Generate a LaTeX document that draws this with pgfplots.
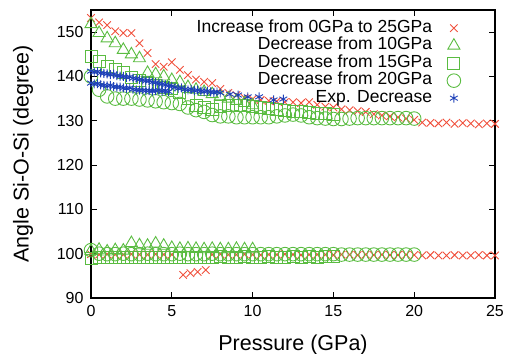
\documentclass[border=0pt]{standalone}
\usepackage{fontspec}
\setmainfont{Liberation Sans}
\usepackage{pgfplots}
\pgfplotsset{compat=1.18}
\definecolor{cred}{RGB}{240,80,60}
\definecolor{cgreen}{RGB}{90,188,65}
\definecolor{cblue}{RGB}{30,65,185}
\begin{document}
\begin{tikzpicture}
\begin{axis}[
  scale only axis, width=404pt, height=288pt,
  xmin=0, xmax=25, ymin=90, ymax=155,
  xtick={0,5,10,15,20,25}, ytick={90,100,110,120,130,140,150},
  tick align=inside, major tick length=6pt,
  tick style={black, line width=1pt},
  axis line style={line width=1.6pt},
  /pgf/number format/assume math mode=true,
  tick label style={font=\fontsize{16}{19}\selectfont},
  xticklabel style={yshift=-4pt},
  yticklabel style={xshift=-4pt},
  xlabel={Pressure (GPa)}, ylabel={Angle Si-O-Si (degree)},
  label style={font=\fontsize{21.5}{25}\selectfont},
  xlabel style={at={(axis description cs:0.5,-0.163)}, anchor=center},
  ylabel style={at={(axis description cs:-0.168,0.5)}, anchor=center},
  legend plot pos=right, legend cell align=right,
  legend style={draw=none, fill=none, at={(rel axis cs:0.923,0.975)}, anchor=north east,
    font=\fontsize{17.5}{20}\selectfont, row sep=0pt, column sep=14pt,
    nodes={inner sep=1pt, text height=12pt, text depth=3.5pt}},
]
\addplot[only marks, mark=x, mark size=5.3pt, cred, line width=0.9pt] coordinates {
(0,153.2)(0.5,152.2)(1,151.6)(1.5,150.2)(2,149.8)(2.5,149.8)(3,147.5)(3.5,145.3)(4,142.8)(4.5,142.2)
(5,143.2)(5.5,141.5)(6,140.3)(6.5,139.3)(7,138.8)(7.5,138.5)(8,137.2)(8.5,136.3)(9,135.8)(9.5,135.2)
(10,134.9)(10.5,134.7)(11,134.5)(11.5,134.4)(12,134.2)(12.5,134.2)(13,134.0)(13.5,134.2)(14,133.6)(14.5,133.2)
(15,133.0)(15.5,132.6)(16,132.4)(16.5,132.2)(17,132.0)(17.5,131.5)(18,131.2)(18.5,131.0)(19,130.8)(19.5,130.5)
(20,130.2)(20.5,129.6)(21,129.5)(21.5,129.4)(22,129.6)(22.5,129.3)(23,129.5)(23.5,129.4)(24,129.2)(24.5,129.4)(25,129.3)
(0,99.9)(0.5,99.8)(1,99.9)(1.5,99.8)(2,99.8)(2.5,99.9)(3,99.8)(3.5,99.8)(4,99.9)(4.5,99.8)(5,99.8)
(5.7,95.2)(6.15,95.6)(6.6,95.9)(7.1,96.3)
(7.5,99.8)(8,99.9)(8.5,99.8)(9,99.8)(9.5,99.9)(10,99.8)(10.5,99.7)(11,99.8)(11.5,99.8)(12,99.9)(12.5,99.8)
(13,99.7)(13.5,99.8)(14,99.8)(14.5,99.8)(15,99.7)(15.5,99.8)(16,99.8)(16.5,99.7)(17,99.8)(17.5,99.7)
(18,99.8)(18.5,99.7)(19,99.7)(19.5,99.8)(20,99.7)(20.5,99.6)(21,99.7)(21.5,99.6)(22,99.6)(22.5,99.7)
(23,99.6)(23.5,99.6)(24,99.7)(24.5,99.6)(25,99.6)
};
\addlegendentry{Increase from 0GPa to 25GPa}
\addplot[only marks, mark=triangle, mark size=7pt, cgreen, line width=0.9pt] coordinates {
(0,151.8)(0.5,149.8)(1,148.6)(1.5,147.5)(2,146.0)(2.5,145.0)(3,144.1)(3.5,140.8)(4,140.5)(4.5,140.0)
(5,139.2)(5.5,138.7)(6,137.6)(6.5,137.0)(7,136.5)(7.5,136.0)(8,135.5)(8.5,135.0)(9,134.5)(9.5,134.0)(10,133.5)
(0,100.6)(0.5,100.9)(1,100.5)(1.5,100.8)(2,100.7)(2.5,102.4)(3,101.9)(3.5,101.8)(4,102.3)(4.5,101.8)
(5,101.3)(5.5,101.1)(6,101.2)(6.5,101.1)(7,101.0)(7.5,101.1)(8,101.0)(8.5,101.0)(9,101.1)(9.5,101.0)(10,101.0)
};
\addlegendentry{Decrease from 10GPa}
\addplot[only marks, mark=square, mark size=6pt, cgreen, line width=0.9pt] coordinates {
(0,144.6)(0.5,143.3)(1,142.3)(1.5,141.5)(2,140.8)(2.5,139.8)(3,139.0)(3.5,138.5)(4,138.0)(4.5,137.6)
(5,137.2)(5.5,136.5)(6,135.0)(6.5,133.5)(7,133.0)(7.5,132.6)(8,133.2)(8.5,133.5)(9,133.5)(9.5,133.4)
(10,133.2)(10.5,133.0)(11,132.8)(11.5,132.6)(12,132.4)(12.5,132.2)(13,132.0)(13.5,131.8)(14,131.7)(14.5,131.6)(15,131.5)
(0,99.0)(0.5,99.2)(1,99.1)(1.5,99.2)(2,99.2)(2.5,99.1)(3,99.2)(3.5,99.2)(4,99.1)(4.5,99.2)(5,99.2)
(5.5,99.2)(6,99.1)(6.5,99.2)(7,99.2)(7.5,99.2)(8,99.3)(8.5,99.2)(9,99.2)(9.5,99.3)(10,99.2)
(10.5,99.2)(11,99.3)(11.5,99.2)(12,99.2)(12.5,99.3)(13,99.2)(13.5,99.3)(14,99.2)(14.5,99.3)(15,99.3)
};
\addlegendentry{Decrease from 15GPa}
\addplot[only marks, mark=o, mark size=6.8pt, cgreen, line width=0.9pt] coordinates {
(0,140.0)(0.5,137.0)(1,135.5)(1.5,135.0)(2,135.0)(2.5,135.0)(3,134.8)(3.5,134.6)(4,134.4)(4.5,134.2)
(5,134.0)(5.5,133.8)(6,133.0)(6.5,132.4)(7,132.0)(7.5,131.3)(8,131.0)(8.5,131.0)(9,130.8)(9.5,130.8)
(10,130.8)(10.5,130.8)(11,130.8)(11.5,131.0)(12,131.2)(12.5,131.4)(13,131.2)(13.5,130.8)(14,130.6)(14.5,130.5)
(15,130.4)(15.5,130.4)(16,130.5)(16.5,130.6)(17,130.6)(17.5,130.6)(18,130.6)(18.5,130.6)(19,130.6)(19.5,130.6)(20,130.5)
(0,100.8)(0.5,100.0)(1,99.9)(1.5,99.9)(2,100.0)(2.5,99.9)(3,99.9)(3.5,100.0)(4,99.9)(4.5,99.9)(5,99.9)
(5.5,100.0)(6,99.9)(6.5,99.9)(7,99.9)(7.5,100.0)(8,99.9)(8.5,99.9)(9,99.9)(9.5,99.9)(10,99.9)
(10.5,99.9)(11,99.9)(11.5,99.9)(12,99.9)(12.5,99.9)(13,99.9)(13.5,99.9)(14,99.9)(14.5,99.9)(15,99.9)
(15.5,99.8)(16,99.8)(16.5,99.8)(17,99.8)(17.5,99.8)(18,99.8)(18.5,99.8)(19,99.8)(19.5,99.8)(20,99.8)
};
\addlegendentry{Decrease from 20GPa}
\addplot[only marks, mark=asterisk, mark size=4.5pt, cblue, line width=0.9pt] coordinates {
(0,141.2)(0.2,141.0)(0.4,141.1)(0.6,140.8)(0.8,140.7)(1.0,140.6)(1.2,140.4)(1.4,140.5)(1.6,140.2)(1.8,140.1)
(2.0,140.0)(2.2,139.8)(2.4,139.9)(2.6,139.6)(2.8,139.5)(3.0,139.3)(3.2,139.2)(3.4,139.0)(3.6,139.0)(3.8,138.7)
(4.0,138.6)(4.2,138.4)(4.4,138.3)(4.6,138.1)(4.8,137.9)(5.0,137.8)
(0,138.5)(0.2,138.3)(0.4,138.4)(0.6,138.1)(0.8,138.0)(1.0,137.9)(1.2,138.0)(1.4,137.7)(1.6,137.6)(1.8,137.6)
(2.0,137.4)(2.2,137.3)(2.4,137.4)(2.6,137.1)(2.8,137.0)(3.0,136.9)(3.2,136.9)(3.4,136.8)(3.6,136.8)(3.8,136.7)
(4.0,136.8)(4.2,136.9)(4.4,136.7)(4.6,136.8)(4.8,136.6)
(5.2,137.6)(5.4,137.3)(5.6,137.4)(5.8,137.1)(6.0,137.0)(6.2,137.1)(6.4,136.8)(6.6,136.9)(6.8,136.7)(7.0,136.6)
(7.2,136.7)(7.4,136.5)(7.6,136.4)(7.8,136.5)(8.0,136.3)
(8.6,136.0)(9.1,135.8)(9.7,135.4)(10.4,135.4)(11.3,134.7)(11.9,134.9)
};
\addlegendentry{Exp. Decrease}
\end{axis}
\pgfresetboundingbox
\path[use as bounding box] (current axis.south west) ++(-91pt,-56pt) rectangle ++(507pt,354pt);
\end{tikzpicture}
\end{document}
